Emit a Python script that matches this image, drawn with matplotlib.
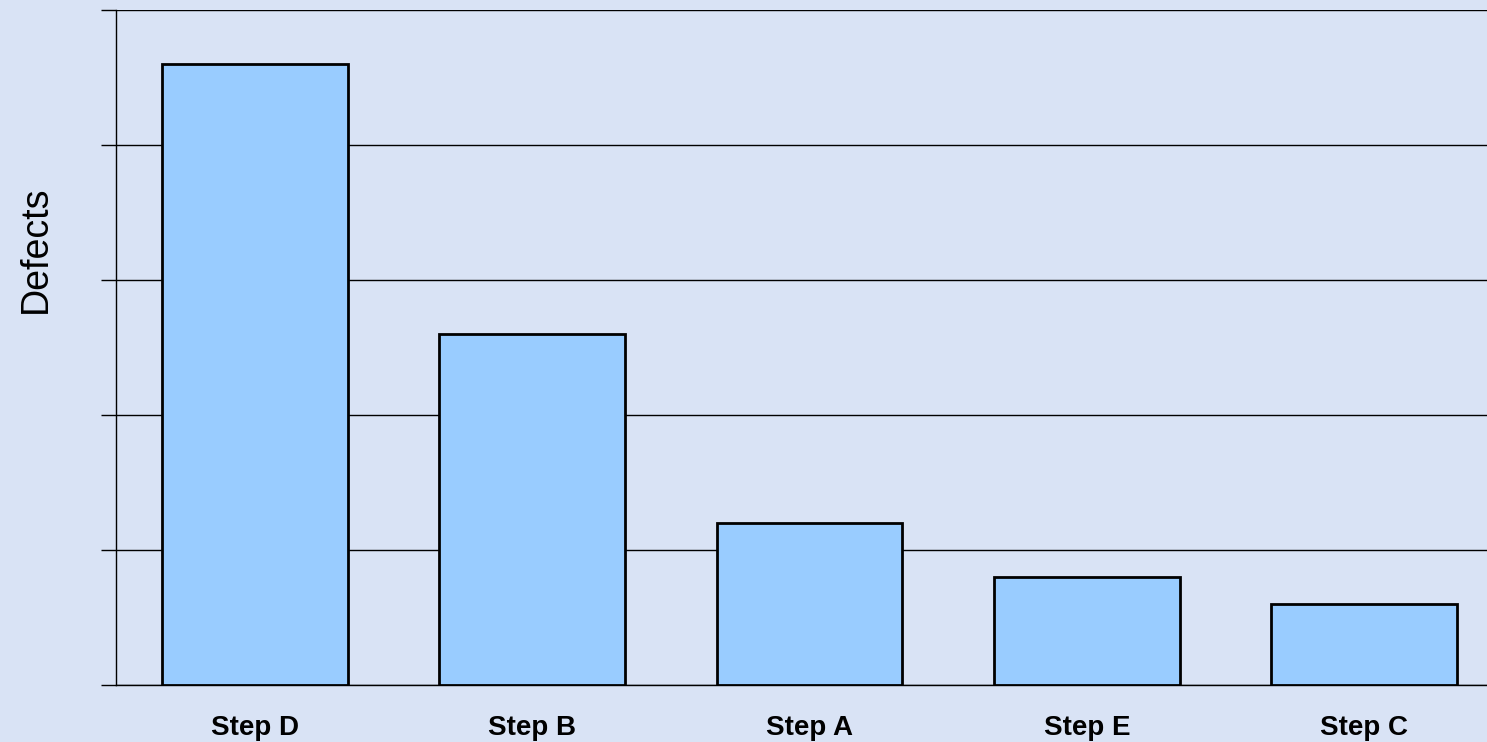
import matplotlib
matplotlib.use("Agg")
import matplotlib.pyplot as plt

categories = ["Step D", "Step B", "Step A", "Step E", "Step C"]
defects = [23, 13, 6, 4, 3]
y_ticks = [0, 5, 10, 15, 20, 25]

BG = "#D9E3F5"
BAR = "#99CCFF"

plt.rcParams['font.family'] = ['Liberation Sans', 'DejaVu Sans']

fig = plt.figure(figsize=(14.87, 7.42), dpi=100, facecolor=BG)
ax = fig.add_axes([116/1487, 57/742, 1 - 116/1487, 675/742])
ax.set_facecolor(BG)

x = list(range(len(categories)))
ax.bar(x, defects, width=0.67, color=BAR, edgecolor="black", linewidth=2, zorder=3)

ax.set_xlim(-0.5, 4.442)
ax.set_ylim(0, 25)
ax.set_yticks(y_ticks)
ax.set_yticklabels([])
ax.yaxis.grid(True, color="black", linewidth=1.0, zorder=0)
ax.set_axisbelow(True)
ax.tick_params(axis='y', direction='out', length=11, width=1.0, color="black")
ax.set_xticks(x)
ax.set_xticklabels(categories, fontsize=20, fontweight='bold')
ax.tick_params(axis='x', length=0, pad=21.5)

for s in ['top', 'right']:
    ax.spines[s].set_visible(False)
ax.spines['left'].set_linewidth(1.0)
ax.spines['bottom'].set_linewidth(1.0)

ax.text(-0.0585, 0.646, "Defects", transform=ax.transAxes, rotation=90,
        ha='center', va='center', fontsize=27)

fig.savefig("out.png", dpi=100, facecolor=BG)
